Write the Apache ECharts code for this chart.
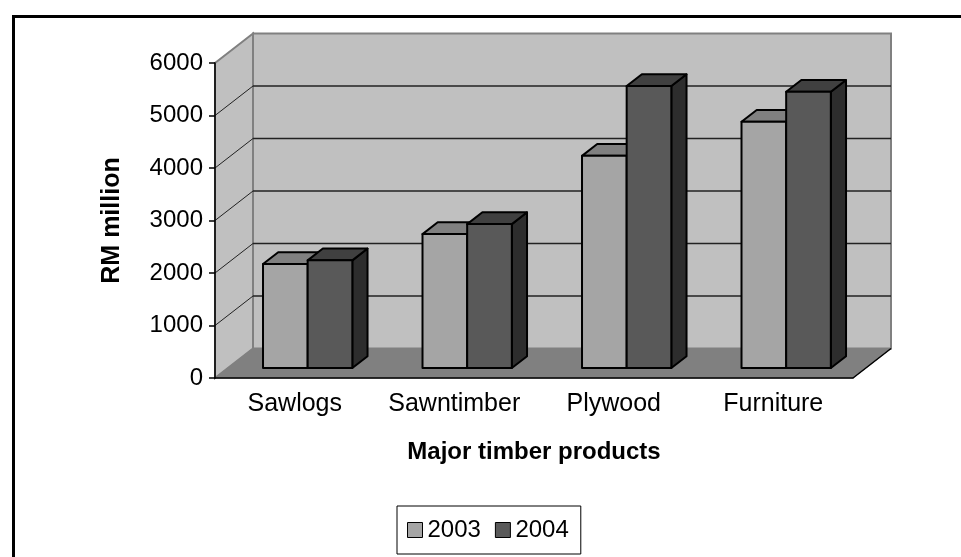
<!DOCTYPE html>
<html>
<head>
<meta charset="UTF-8">
<title>Major timber products</title>
<script src="https://cdn.jsdelivr.net/npm/echarts@6/dist/echarts.min.js"></script>
<style>
  html, body { margin: 0; padding: 0; background: #fff; }
  #main { width: 961px; height: 557px; }
</style>
</head>
<body>
<div id="main"></div>
<script type="text/javascript">
    // data
    var categories = ['Sawlogs', 'Sawntimber', 'Plywood', 'Furniture'];
    var years = ['2003', '2004'];
    var values2003 = [1980, 2550, 4040, 4690];
    var values2004 = [2050, 2740, 5370, 5260];
    var yTicks = [0, 1000, 2000, 3000, 4000, 5000, 6000];

    // fake 3d: depth vector of the floor, and where the bars sit in it
    var DEPTH = [38, -29.5];
    var BAR_FRONT = 0.34, BAR_BACK = 0.74;
    var BAR_W = 0.28;   // share of a category band

    var faceColors = {
        '2003': { front: '#a5a5a5', top: '#808080', side: '#6a6a6a' },
        '2004': { front: '#595959', top: '#404040', side: '#2d2d2d' }
    };

    var font = 'Liberation Sans, Arial, sans-serif';
    var myChart = echarts.init(document.getElementById('main'));

    function walls(params, api) {
        var cs = params.coordSys;
        var L = cs.x, R = cs.x + cs.width, T = cs.y, B = cs.y + cs.height;
        var dx = DEPTH[0], dy = DEPTH[1];
        var kids = [];
        // left side wall
        kids.push({ type: 'polygon', shape: { points: [[L, T], [L + dx, T + dy], [L + dx, B + dy], [L, B]] },
            style: { fill: '#c0c0c0', stroke: '#808080', lineWidth: 2 } });
        // back wall
        kids.push({ type: 'rect', shape: { x: L + dx, y: T + dy, width: R - L, height: B - T },
            style: { fill: '#c0c0c0', stroke: '#808080', lineWidth: 2 } });
        // grid lines on back and side walls
        for (var k = 1; k < yTicks.length - 1; k++) {
            var y = api.coord([0, yTicks[k]])[1];
            kids.push({ type: 'line', shape: { x1: L + dx, y1: y + dy, x2: R + dx, y2: y + dy },
                style: { stroke: '#222', lineWidth: 1.5 } });
            kids.push({ type: 'line', shape: { x1: L, y1: y, x2: L + dx, y2: y + dy },
                style: { stroke: '#222', lineWidth: 1 } });
        }
        // floor
        kids.push({ type: 'polygon', shape: { points: [[L, B], [R, B], [R + dx, B + dy], [L + dx, B + dy]] },
            style: { fill: '#808080', stroke: '#808080', lineWidth: 1 } });
        kids.push({ type: 'line', shape: { x1: R, y1: B, x2: R + dx, y2: B + dy },
            style: { stroke: '#000', lineWidth: 1.5 } });
        return { type: 'group', children: kids };
    }

    function makeBar(year, left) {
        return function (params, api) {
            var i = api.value(0);
            var top = api.coord([i, api.value(1)]);
            var base = api.coord([i, 0]);
            var band = api.size([1, 0])[0];
            var w = band * BAR_W;
            var fx = DEPTH[0] * BAR_FRONT, fy = DEPTH[1] * BAR_FRONT;
            var ddx = DEPTH[0] * (BAR_BACK - BAR_FRONT), ddy = DEPTH[1] * (BAR_BACK - BAR_FRONT);
            var x0 = (left ? top[0] - w : top[0]) + fx;
            var x1 = x0 + w;
            var yt = top[1] + fy, yb = base[1] + fy;
            var c = faceColors[year];
            var st = { stroke: '#000', lineWidth: 2, lineJoin: 'round' };
            return {
                type: 'group',
                children: [
                    { type: 'polygon', shape: { points: [[x1, yt], [x1 + ddx, yt + ddy], [x1 + ddx, yb + ddy], [x1, yb]] },
                      style: Object.assign({ fill: c.side }, st) },
                    { type: 'polygon', shape: { points: [[x0, yt], [x1, yt], [x1 + ddx, yt + ddy], [x0 + ddx, yt + ddy]] },
                      style: Object.assign({ fill: c.top }, st) },
                    { type: 'rect', shape: { x: x0, y: yt, width: w, height: yb - yt },
                      style: Object.assign({ fill: c.front }, st) }
                ]
            };
        };
    }

    function pairs(arr) {
        return arr.map(function (v, i) { return [i, v]; });
    }

    var option = {
        animation: false,
        textStyle: { fontFamily: font },
        graphic: [{
            type: 'rect', left: 11, top: 14, z: 100,
            shape: { width: 1000, height: 600 },
            style: { fill: 'none', stroke: '#000', lineWidth: 3 }
        }],
        grid: { left: 215, right: 108, top: 63, bottom: 179 },
        legend: {
            data: [
                { name: '2003', itemStyle: { color: faceColors['2003'].front, borderColor: '#000', borderWidth: 1 } },
                { name: '2004', itemStyle: { color: faceColors['2004'].front, borderColor: '#000', borderWidth: 1 } }
            ],
            left: 397, top: 506,
            icon: 'rect', itemWidth: 15, itemHeight: 15, itemGap: 14,
            padding: [12, 12, 12, 10],
            borderColor: '#000', borderWidth: 1,
            textStyle: { fontSize: 24, color: '#000', fontFamily: font }
        },
        xAxis: {
            type: 'category',
            data: categories,
            name: 'Major timber products',
            nameLocation: 'middle',
            nameGap: 62,
            nameTextStyle: { fontSize: 24, fontWeight: 'bold', color: '#000', fontFamily: font },
            axisLine: { lineStyle: { color: '#000', width: 1.5 } },
            axisTick: { length: 6, interval: 0, lineStyle: { color: '#000', width: 1.5 } },
            axisLabel: { fontSize: 25, color: '#000', margin: 14, interval: 0, fontFamily: font },
            splitLine: { show: false }
        },
        yAxis: {
            type: 'value',
            min: 0, max: 6000, interval: 1000,
            name: 'RM million',
            nameLocation: 'middle',
            nameGap: 90,
            nameTextStyle: { fontSize: 25, fontWeight: 'bold', color: '#000', fontFamily: font },
            axisLine: { show: true, lineStyle: { color: '#000', width: 1.5 } },
            axisTick: { show: true, length: 6, lineStyle: { color: '#000', width: 1.5 } },
            axisLabel: { fontSize: 24, color: '#000', margin: 12, fontFamily: font,
                formatter: function (v) { return String(v); } },
            splitLine: { show: false }
        },
        series: [
            { name: 'walls', type: 'custom', z: -1, silent: true, data: [[0, 0]], renderItem: walls },
            { name: '2003', type: 'custom', z: 2, data: pairs(values2003), renderItem: makeBar('2003', true),
              itemStyle: { color: faceColors['2003'].front } },
            { name: '2004', type: 'custom', z: 3, data: pairs(values2004), renderItem: makeBar('2004', false),
              itemStyle: { color: faceColors['2004'].front } }
        ]
    };

    myChart.setOption(option);
</script>
</body>
</html>
